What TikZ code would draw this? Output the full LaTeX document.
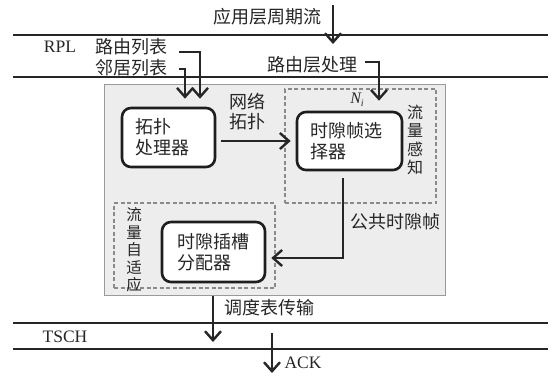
\documentclass[tikz,border=0pt]{standalone}
\usepackage{fontspec}
\setmainfont{Noto Sans CJK SC}
\newfontfamily\lat{Liberation Serif}
\usetikzlibrary{arrows.meta}
\definecolor{lc}{HTML}{262626}
\definecolor{bc}{HTML}{1E1E1E}
\definecolor{gf}{HTML}{EDEDED}
\definecolor{gc}{HTML}{9A9A9A}
\definecolor{dc}{HTML}{8A8A8A}
\begin{document}
\begin{tikzpicture}[x=1pt,y=-1pt,
  txt/.style={inner sep=0pt, text=lc, font=\fontsize{18}{21}\selectfont},
  lattxt/.style={inner sep=0pt, text=lc, font=\lat\fontsize{17.5}{21}\selectfont},
  layer/.style={draw=lc, line width=2.5pt},
  arr/.style={draw=lc, line width=2.4pt, -{Straight Barb[length=9pt,width=16pt]}},
  proc/.style={draw=bc, line width=2.6pt, fill=white, rounded corners=9pt, inner sep=0pt, align=left, text=lc, font=\fontsize{18}{21}\selectfont},
  dbox/.style={draw=dc, line width=1.2pt, dash pattern=on 4pt off 2.5pt, inner sep=0pt},
  vtxt/.style={inner sep=0pt, align=center, text=lc}
]
\useasboundingbox (0,0) rectangle (558,376);
\fill[white] (0,0) rectangle (558,376);

% layer lines
\coordinate (l1a) at (13,35);  \coordinate (l1b) at (548,35);
\coordinate (l2a) at (13,77);  \coordinate (l2b) at (548,77);
\coordinate (l3a) at (13,323); \coordinate (l3b) at (548,323);
\coordinate (l4a) at (13,349); \coordinate (l4b) at (548,349);
\draw[layer] (l1a) -- (l1b);
\draw[layer] (l2a) -- (l2b);
\draw[layer] (l3a) -- (l3b);
\draw[layer] (l4a) -- (l4b);

% system box
\node[draw=gc, fill=gf, line width=1pt, minimum width=341pt, minimum height=211pt, inner sep=0pt] (sys) at (274.5,189.5) {};

% dashed regions
\node[dbox, minimum width=151pt, minimum height=114pt] (sense) at (360.5,146) {};
\node[dbox, minimum width=161pt, minimum height=85pt] (adapt) at (194.5,245.5) {};

% processing boxes
\node[proc, minimum width=93pt, minimum height=59pt, text width=67pt] (topo) at (168.5,137.5) {拓扑\\处理器};
\node[proc, minimum width=105pt, minimum height=58pt, text width=79pt] (sel) at (349.5,141) {时隙帧选\\择器};
\node[proc, minimum width=103pt, minimum height=60pt, text width=73pt] (alloc) at (213.5,252) {时隙插槽\\分配器};

% texts
\node[txt, anchor=east] (app) at (322,17) {应用层周期流};
\node[lattxt] (rpl) at (60,47) {RPL};
\node[txt, anchor=west] (lr) at (95,47) {路由列表};
\node[txt, anchor=west] (nb) at (95,68) {邻居列表};
\node[txt] (rlp) at (312.5,65) {路由层处理};
\node[txt, align=center, font=\fontsize{18}{20}\selectfont] (net) at (247,112) {网络\\拓扑};
\node[lattxt, font=\lat\itshape\fontsize{16}{18}\selectfont] (ni) at (357,100) {N\raisebox{-3pt}{\fontsize{10}{10}\selectfont i}};
\node[vtxt, font=\fontsize{16}{18.5}\selectfont] (senset) at (415,140) {流\\量\\感\\知};
\node[vtxt, font=\fontsize{15.5}{17.5}\selectfont] (adaptt) at (134,250) {流\\量\\自\\适\\应};
\node[txt] (pub) at (395,222) {公共时隙帧};
\node[txt] (sched) at (269,308) {调度表传输};
\node[lattxt] (tsch) at (65,337) {TSCH};
\node[lattxt] (ack) at (303,363) {ACK};

% connectors
\coordinate (apptop) at (333,5);
\coordinate (apptip) at (333,44);
\draw[arr] (apptop) -- (apptip);

\draw[arr] ([shift={(12pt,-5pt)}]lr.east) -| ([shift={(31.5pt,8pt)}]topo.north);
\draw[arr] ([shift={(12pt,-1pt)}]nb.east) -| ([shift={(16.5pt,8pt)}]topo.north);

\draw[arr] ([shift={(7.5pt,3pt)}]rlp.east) -| ([shift={(29.5pt,10pt)}]sel.north);

\draw[arr] ([xshift=5pt]topo.east |- sel.west) -- ([xshift=-5pt]sel.west);

\draw[arr] ([shift={(-6.5pt,-7pt)}]sel.south) |- ([shift={(5pt,-6pt)}]alloc.east);

\coordinate (schedtip) at (213,342);
\draw[arr] (sys.south -| schedtip) -- (schedtip);

\coordinate (acktop) at (272,333);
\coordinate (acktip) at (272,373);
\draw[arr] (acktop) -- (acktip);
\end{tikzpicture}
\end{document}
